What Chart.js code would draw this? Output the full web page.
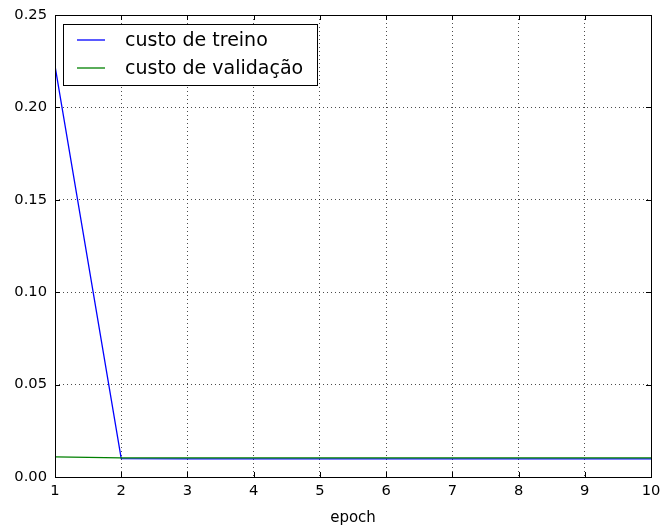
<!DOCTYPE html>
<html><head><meta charset="utf-8">
<script src="https://cdn.jsdelivr.net/npm/chart.js@4/dist/chart.umd.min.js"></script>
<style>html,body{margin:0;padding:0;background:#fff}#wrap{width:661px;height:527px}</style>
</head><body><div id="wrap"><canvas id="c" width="661" height="527"></canvas></div>
<script>
const epochs = [1,2,3,4,5,6,7,8,9,10];
const trainCost = [0.2225,0.0099,0.0098,0.0098,0.0098,0.0098,0.0098,0.0098,0.0098,0.0098];
const valCost = [0.0109,0.0104,0.0103,0.0103,0.0103,0.0103,0.0103,0.0103,0.0103,0.0103];
const seriesNames = ['custo de treino','custo de validação'];
const yTicks = [0,0.05,0.10,0.15,0.20,0.25];

const FONT = "'DejaVu Sans', sans-serif";

const framePlugin = {
  id:'frame',
  afterDatasetsDraw(chart){
    const {ctx, chartArea:a, scales} = chart;
    ctx.save();
    ctx.strokeStyle='#000'; ctx.lineWidth=1; ctx.setLineDash([]);
    ctx.beginPath();
    epochs.forEach(v=>{const x=Math.round(scales.x.getPixelForValue(v))+0.5;
      ctx.moveTo(x,a.bottom);ctx.lineTo(x,a.bottom-5);ctx.moveTo(x,a.top);ctx.lineTo(x,a.top+5);});
    yTicks.forEach(v=>{const y=Math.round(scales.y.getPixelForValue(v))+0.5;
      ctx.moveTo(a.left,y);ctx.lineTo(a.left+5,y);ctx.moveTo(a.right,y);ctx.lineTo(a.right-5,y);});
    ctx.stroke();
    ctx.strokeRect(Math.round(a.left)+0.5,Math.round(a.top)+0.5,Math.round(a.right-a.left),Math.round(a.bottom-a.top));
    // legend
    const lx=63.5, ly=24.5, lw=254, lh=61;
    ctx.fillStyle='#fff'; ctx.fillRect(lx,ly,lw,lh);
    ctx.strokeRect(lx,ly,lw,lh);
    const colors=chart.data.datasets.map(d=>d.borderColor);
    ctx.font='19px '+FONT; ctx.textBaseline='middle'; ctx.fillStyle='#000';
    seriesNames.forEach((n,i)=>{const y=40+i*28;
      ctx.strokeStyle=colors[i]; ctx.lineWidth=1.3; ctx.beginPath(); ctx.moveTo(77,y); ctx.lineTo(105,y); ctx.stroke();
      ctx.fillText(n,125,y+1);});
    ctx.restore();
  }
};

new Chart(document.getElementById('c'),{
  type:'line',
  data:{labels:epochs,datasets:[
    {label:seriesNames[0],data:trainCost,borderColor:'#0000ff',borderWidth:1.3,pointRadius:0,tension:0,fill:false,order:2},
    {label:seriesNames[1],data:valCost,borderColor:'#008000',borderWidth:1.3,pointRadius:0,tension:0,fill:false,order:1}
  ]},
  options:{
    responsive:false,animation:false,
    layout:{padding:{left:0,right:10,top:15,bottom:0}},
    plugins:{legend:{display:false},tooltip:{enabled:false}},
    scales:{
      x:{type:'linear',min:1,max:10,
        afterFit(s){s.height=50;s.paddingLeft=0;s.paddingRight=0;},
        afterBuildTicks(s){s.ticks=epochs.map(v=>({value:v}));},
        ticks:{color:'#000',font:{family:FONT,size:14.7},padding:5,maxRotation:0,autoSkip:false},
        grid:{color:'rgba(0,0,0,0.7)',lineWidth:1,drawTicks:false},
        border:{display:false,dash:[1,3]},
        title:{display:true,text:'epoch',color:'#000',font:{family:FONT,size:15},padding:{top:4,bottom:0}}
      },
      y:{min:0,max:0.25,
        afterFit(s){s.width=55;s.paddingTop=0;s.paddingBottom=0;},
        afterBuildTicks(s){s.ticks=yTicks.map(v=>({value:v}));},
        ticks:{color:'#000',font:{family:FONT,size:14.7},padding:8,callback:v=>v.toFixed(2)},
        grid:{color:'rgba(0,0,0,0.7)',lineWidth:1,drawTicks:false},
        border:{display:false,dash:[1,3]}
      }
    }
  },
  plugins:[framePlugin]
});
</script></body></html>
